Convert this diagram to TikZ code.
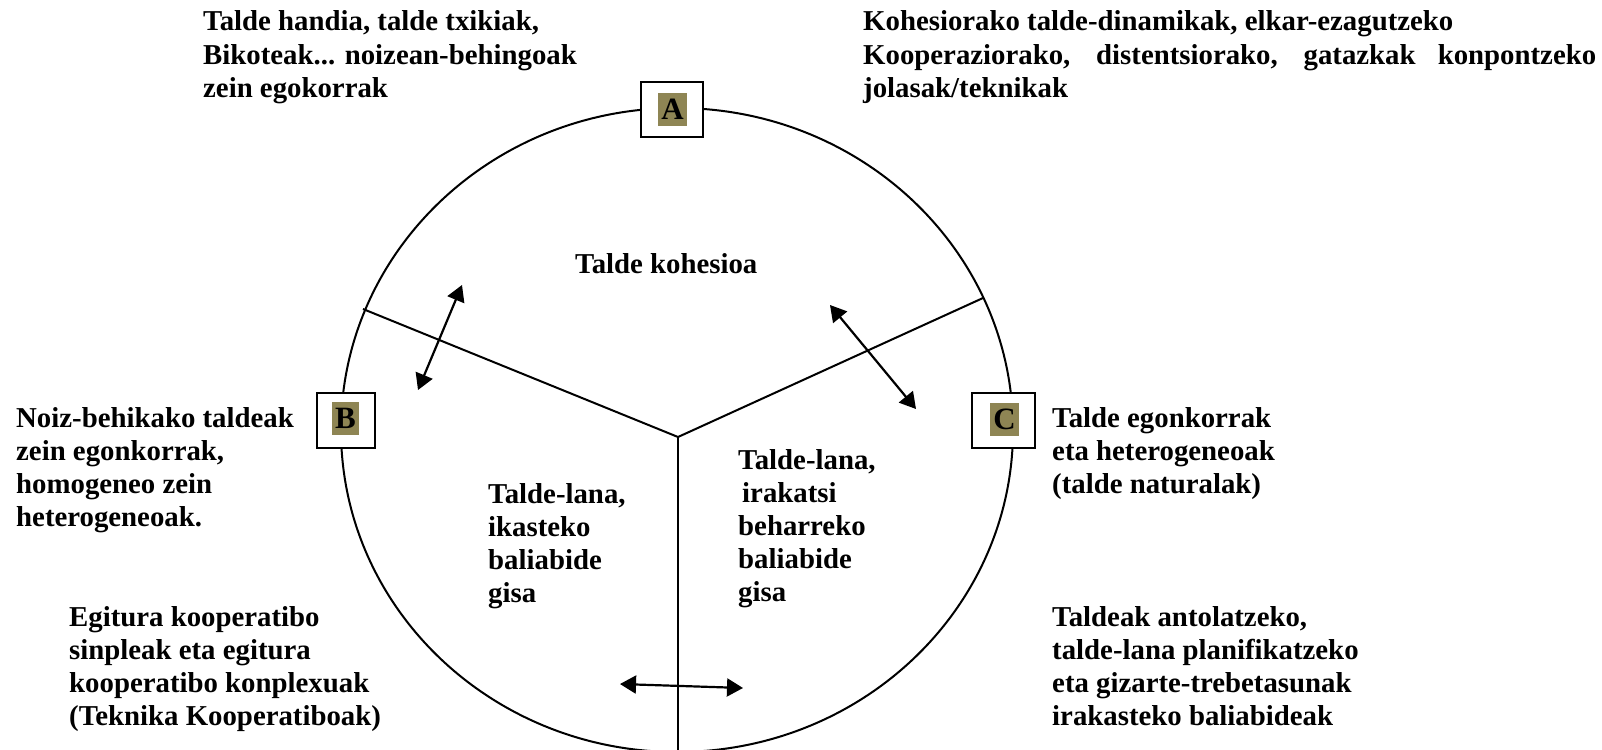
\documentclass[tikz,border=0pt]{standalone}
\usepackage{fontspec}
\setmainfont{Liberation Serif}
\usetikzlibrary{arrows.meta}
\definecolor{boxolive}{RGB}{142,133,84}
\begin{document}
\begin{tikzpicture}[x=1pt,y=-1pt,
  txt/.style={anchor=base west, align=left, inner sep=0pt, font=\fontsize{28.8}{33.2}\selectfont\bfseries},
  frame/.style={draw=black, line width=2.4pt, fill=white, minimum width=#1, minimum height=55pt, inner sep=0pt},
  letterbox/.style={fill=boxolive, minimum width=#1, minimum height=33pt, inner sep=0pt, font=\fontsize{31}{31}\selectfont\bfseries},
  rim/.style={line width=2pt},
  dblarrow/.style={line width=2.2pt, {Triangle[length=16pt,width=18pt]}-{Triangle[length=16pt,width=18pt]}}
]
\useasboundingbox (0,0) rectangle (1602,749);
% circle
\draw[rim] (677,430) ellipse [x radius=336pt, y radius=322pt];
% dividing lines
\coordinate (J) at (678,437);
\coordinate (L) at (363,309);
\coordinate (R) at (983,298);
\coordinate (Bt) at (678,760);
\draw[rim] (L) -- (J) -- (R);
\draw[rim] (J) -- (Bt);
% boxes
\node[frame=62pt] (A) at (672,109.5) {};
\node[letterbox=29pt] (Al) at (672.5,109.5) {A};
\node[frame=58pt] (B) at (346,420.5) {};
\node[letterbox=27pt] (Bl) at (345.5,418.5) {B};
\node[frame=63pt] (C) at (1003.5,420.5) {};
\node[letterbox=29pt] (Cl) at (1004.5,419) {C};
% arrows
\coordinate (a1) at (462,285);
\coordinate (a2) at (418,390);
\coordinate (b1) at (830,305);
\coordinate (b2) at (916,409);
\coordinate (c1) at (620,684);
\coordinate (c2) at (743,688);
\draw[dblarrow] (a1) -- (a2);
\draw[dblarrow] (b1) -- (b2);
\draw[dblarrow] (c1) -- (c2);
% texts (anchor = baseline of last line)
\node[txt] (t1) at (203,97.4) {Talde handia, talde txikiak,\\Bikoteak... noizean-behingoak\\zein egokorrak};
\node[txt] (t2) at (863,97.4) {Kohesiorako talde-dinamikak, elkar-ezagutzeko\\\makebox[733pt][s]{Kooperaziorako, distentsiorako, gatazkak konpontzeko}\\jolasak/teknikak};
\node[txt] (t3) at (575,273) {Talde kohesioa};
\node[txt] (t4) at (16,526.6) {Noiz-behikako taldeak\\zein egonkorrak,\\homogeneo zein\\heterogeneoak.};
\node[txt] (t5) at (1052,493.4) {Talde egonkorrak\\eta heterogeneoak\\(talde naturalak)};
\node[txt] (t6) at (488,602.6) {Talde-lana,\\ikasteko\\baliabide\\gisa};
\node[txt] (t7) at (738,601.8) {Talde-lana,\\\hspace{4pt}irakatsi\\beharreko\\baliabide\\gisa};
\node[txt] (t8) at (69,725.6) {Egitura kooperatibo\\sinpleak eta egitura\\kooperatibo konplexuak\\(Teknika Kooperatiboak)};
\node[txt] (t9) at (1052,725.6) {Taldeak antolatzeko,\\talde-lana planifikatzeko\\eta gizarte-trebetasunak\\irakasteko baliabideak};
\end{tikzpicture}
\end{document}
